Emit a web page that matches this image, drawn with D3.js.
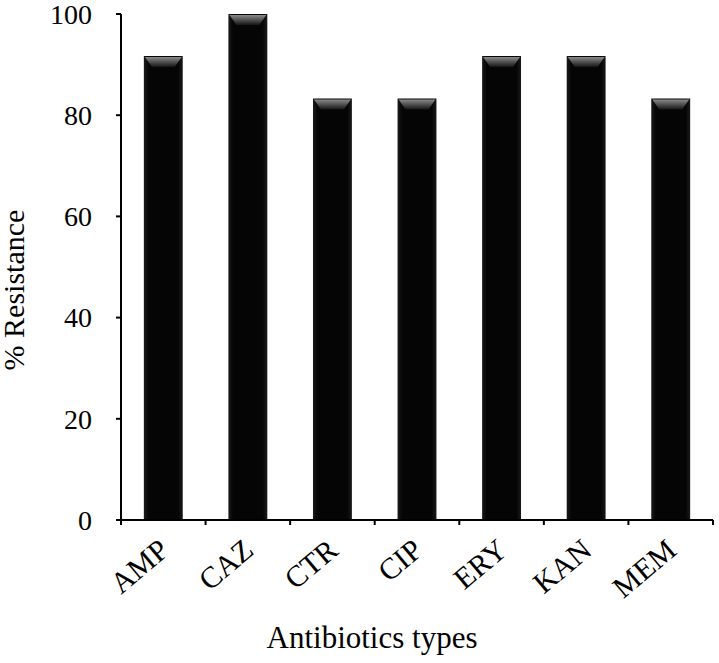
<!DOCTYPE html>
<html>
<head>
<meta charset="utf-8">
<script src="https://cdn.jsdelivr.net/npm/d3@7"></script>
<style>
  body { margin: 0; background: #fff; }
  text { font-family: "Liberation Serif", "Times New Roman", serif; fill: #000; }
</style>
</head>
<body>
<svg id="chart" width="719" height="663"></svg>
<script>
// antibiotic categories and % resistance
var antibiotics = ["AMP", "CAZ", "CTR", "CIP", "ERY", "KAN", "MEM"];
var resistance = [91.7, 100, 83.3, 83.3, 91.7, 91.7, 83.3];
var yTicks = [0, 20, 40, 60, 80, 100];

var svg = d3.select("#chart");

//plot area
var plotLeft = 121, plotRight = 713, plotTop = 14, plotBottom = 520;

var x = d3.scaleBand().domain(antibiotics).range([plotLeft, plotRight]).padding(0);
var y = d3.scaleLinear().domain([0, 100]).range([plotBottom, plotTop]);

var barFrac = 0.46;
var bevel = 10;

// gradient for the top bevel of each bar
var defs = svg.append("defs");
var grad = defs.append("linearGradient").attr("id", "bevel")
  .attr("x1", 0).attr("y1", 0).attr("x2", 0).attr("y2", 1);
grad.append("stop").attr("offset", "0%").attr("stop-color", "#8a8a8a");
grad.append("stop").attr("offset", "100%").attr("stop-color", "#151515");

var side = defs.append("linearGradient").attr("id", "body")
  .attr("x1", 0).attr("y1", 0).attr("x2", 1).attr("y2", 0);
side.append("stop").attr("offset", "0%").attr("stop-color", "#1a1a1a");
side.append("stop").attr("offset", "12%").attr("stop-color", "#050505");
side.append("stop").attr("offset", "88%").attr("stop-color", "#050505");
side.append("stop").attr("offset", "100%").attr("stop-color", "#1a1a1a");

var bars = svg.selectAll("g.bar")
  .data(antibiotics)
  .enter()
  .append("g")
  .attr("class", "bar");

bars.append("rect")
  .attr("x", function(d) { return x(d) + x.bandwidth() * (1 - barFrac) / 2; })
  .attr("y", function(d, i) { return y(resistance[i]); })
  .attr("width", x.bandwidth() * barFrac)
  .attr("height", function(d, i) { return plotBottom - y(resistance[i]); })
  .attr("fill", "url(#body)");

bars.append("polygon")
  .attr("points", function(d, i) {
    var x0 = x(d) + x.bandwidth() * (1 - barFrac) / 2;
    var w = x.bandwidth() * barFrac;
    var t = y(resistance[i]) + 1;
    return [[x0 + 1, t], [x0 + w - 1, t], [x0 + w - 8, t + bevel], [x0 + 8, t + bevel]]
      .map(function(p) { return p.join(","); }).join(" ");
  })
  .attr("fill", "url(#bevel)");

// y axis
var yAxis = svg.append("g");
yAxis.append("line")
  .attr("x1", plotLeft).attr("x2", plotLeft)
  .attr("y1", plotTop).attr("y2", plotBottom)
  .attr("stroke", "#000").attr("stroke-width", 2);
yAxis.selectAll("line.tick")
  .data(yTicks).enter().append("line")
  .attr("class", "tick")
  .attr("x1", plotLeft - 5).attr("x2", plotLeft)
  .attr("y1", function(d) { return y(d); })
  .attr("y2", function(d) { return y(d); })
  .attr("stroke", "#000").attr("stroke-width", 2);
yAxis.selectAll("text")
  .data(yTicks).enter().append("text")
  .attr("x", 92)
  .attr("y", function(d) { return y(d); })
  .attr("dy", "0.35em")
  .attr("text-anchor", "end")
  .style("font-size", "28px")
  .text(function(d) { return d; });

// x axis
var xAxis = svg.append("g");
xAxis.append("line")
  .attr("x1", plotLeft - 1).attr("x2", plotRight)
  .attr("y1", plotBottom).attr("y2", plotBottom)
  .attr("stroke", "#000").attr("stroke-width", 2);
var boundaries = antibiotics.map(function(d) { return x(d); }).concat([plotRight]);
xAxis.selectAll("line.tick")
  .data(boundaries).enter().append("line")
  .attr("class", "tick")
  .attr("x1", function(d) { return d; }).attr("x2", function(d) { return d; })
  .attr("y1", plotBottom).attr("y2", plotBottom + 5)
  .attr("stroke", "#000").attr("stroke-width", 2);
xAxis.selectAll("text")
  .data(antibiotics).enter().append("text")
  .attr("transform", function(d) {
    return "translate(" + (x(d) + x.bandwidth() / 2 - 6) + "," + (plotBottom + 17) + ") rotate(-40)";
  })
  .attr("text-anchor", "end")
  .attr("dy", "0.7em")
  .style("font-size", "30px")
  .text(function(d) { return d; });

// axis titles
svg.append("text")
  .attr("x", 372).attr("y", 648)
  .attr("text-anchor", "middle")
  .style("font-size", "31px")
  .text("Antibiotics types");

svg.append("text")
  .attr("transform", "translate(24,290) rotate(-90)")
  .attr("text-anchor", "middle")
  .style("font-size", "30px")
  .text("% Resistance");
</script>
</body>
</html>
